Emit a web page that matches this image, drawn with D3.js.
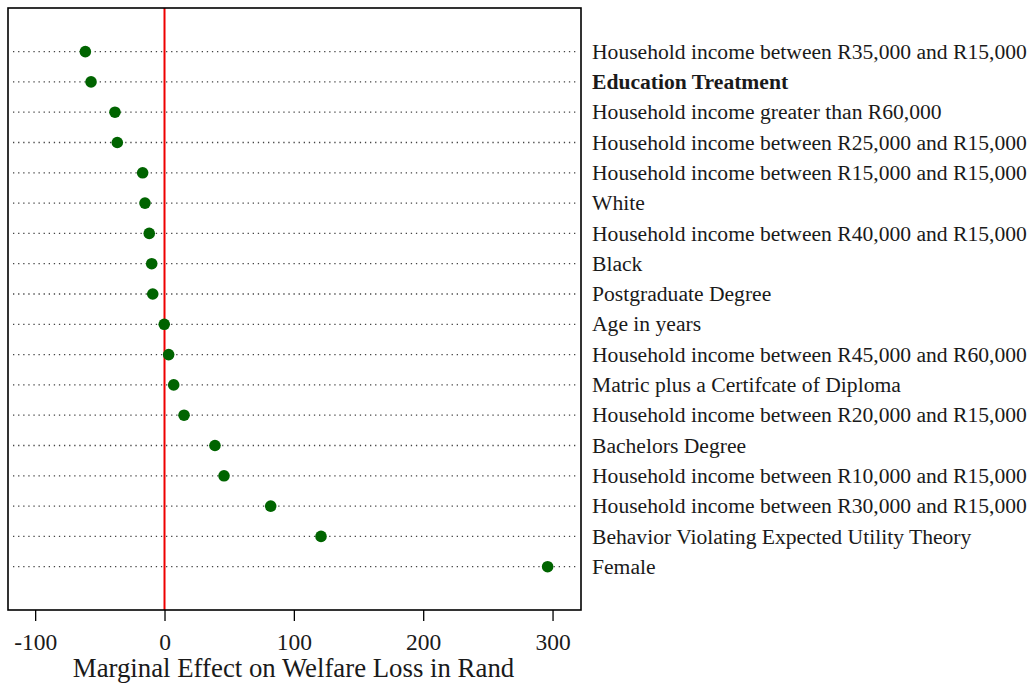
<!DOCTYPE html>
<html>
<head>
<meta charset="utf-8">
<script src="https://cdn.jsdelivr.net/npm/d3@7"></script>
<style>
  html, body { margin: 0; padding: 0; background: #fff; }
  svg { display: block; }
  text { font-family: "Liberation Serif", "Times New Roman", serif; fill: #1a1a1a; }
</style>
</head>
<body>
<svg id="chart" width="1033" height="685"></svg>
<script>
// ---- data (top to bottom) ----
const categories = [
  "Household income between R35,000 and R15,000",
  "Education Treatment",
  "Household income greater than R60,000",
  "Household income between R25,000 and R15,000",
  "Household income between R15,000 and R15,000",
  "White",
  "Household income between R40,000 and R15,000",
  "Black",
  "Postgraduate Degree",
  "Age in years",
  "Household income between R45,000 and R60,000",
  "Matric plus a Certifcate of Diploma",
  "Household income between R20,000 and R15,000",
  "Bachelors Degree",
  "Household income between R10,000 and R15,000",
  "Household income between R30,000 and R15,000",
  "Behavior Violating Expected Utility Theory",
  "Female"
];
const effects = [-61.2, -56.8, -38.3, -36.5, -16.9, -15.1, -11.8, -9.9, -9.1, -0.2, 3.2, 7.1, 15.1, 39, 46, 82.1, 121, 296.2];
const boldCategories = ["Education Treatment"];
const xTicks = [-100, 0, 100, 200, 300];
const xTitle = "Marginal Effect on Welfare Loss in Rand";
const refValue = 0;

// ---- layout ----
const svg = d3.select("#chart");
const pLeft = 8, pRight = 581, pTop = 8, pBottom = 610;

const x = d3.scaleLinear().domain([-121, 322]).range([pLeft, pRight]);
const y = d3.scaleLinear().domain([-1.44, categories.length - 1 + 1.43]).range([pTop, pBottom]);

// dotted guide lines
svg.append("g").selectAll("line").data(categories).join("line")
  .attr("x1", pLeft + 5).attr("x2", pRight - 4)
  .attr("y1", (d, i) => y(i)).attr("y2", (d, i) => y(i))
  .attr("stroke", "#444").attr("stroke-width", 1.3)
  .attr("stroke-dasharray", "1.3,3.8");

// reference line
svg.append("line")
  .attr("x1", x(refValue)).attr("x2", x(refValue))
  .attr("y1", pTop).attr("y2", pBottom)
  .attr("stroke", "#ee0000").attr("stroke-width", 2);

// dots
svg.append("g").selectAll("circle").data(effects).join("circle")
  .attr("cx", d => x(d)).attr("cy", (d, i) => y(i))
  .attr("r", 5.8).attr("fill", "#006400");

// frame
svg.append("rect")
  .attr("x", pLeft).attr("y", pTop)
  .attr("width", pRight - pLeft).attr("height", pBottom - pTop)
  .attr("fill", "none").attr("stroke", "#000").attr("stroke-width", 1.6);

// x axis
const xAxis = d3.axisBottom(x).tickValues(xTicks).tickSize(11).tickPadding(4).tickFormat(d => String(d));
const gx = svg.append("g").attr("transform", `translate(0,${pBottom})`).call(xAxis);
gx.select(".domain").remove();
gx.selectAll(".tick line").attr("stroke", "#000").attr("stroke-width", 1.3);
gx.selectAll(".tick text")
  .attr("font-family", "Liberation Serif, serif")
  .attr("font-size", 23.5).attr("fill", "#1a1a1a")
  .attr("dy", null).attr("y", 40);

svg.append("text")
  .attr("x", (73 + 514) / 2).attr("y", 677)
  .attr("text-anchor", "middle")
  .attr("font-size", 26.8)
  .text(xTitle);

// category labels on the right
svg.append("g").selectAll("text").data(categories).join("text")
  .attr("x", 592).attr("y", (d, i) => y(i))
  .attr("dy", "0.33em")
  .attr("font-size", 21.6)
  .attr("font-weight", d => boldCategories.includes(d) ? "bold" : "normal")
  .text(d => d);
</script>
</body>
</html>
